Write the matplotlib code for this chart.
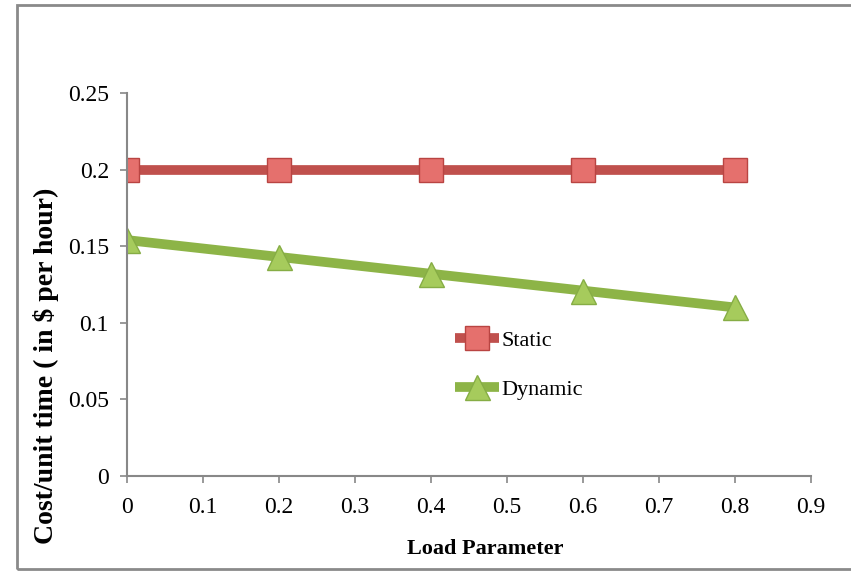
import matplotlib
matplotlib.use("Agg")
import matplotlib.pyplot as plt
from matplotlib.patches import Rectangle

load = [0, 0.2, 0.4, 0.6, 0.8]
static_cost = [0.2, 0.2, 0.2, 0.2, 0.2]
dynamic_cost = [0.154, 0.143, 0.132, 0.121, 0.110]
xticks = [0, 0.1, 0.2, 0.3, 0.4, 0.5, 0.6, 0.7, 0.8, 0.9]
yticks = [0, 0.05, 0.1, 0.15, 0.2, 0.25]

plt.rcParams['font.family'] = ['Liberation Serif', 'DejaVu Serif']

fig = plt.figure(figsize=(8.51, 5.72), dpi=100)
# outer frame of the pasted chart
fig.patches.append(Rectangle((17/851, 3/572), 1.0, 564/572, transform=fig.transFigure,
                             fill=False, edgecolor='#8a8a8a', linewidth=2))

ax = fig.add_axes([127/851, 1-476/572, (811-127)/851, (476-93)/572])

ax.plot(load, static_cost, color='#C0504D', linewidth=7, marker='s', markersize=17,
        markerfacecolor='#E5706D', markeredgecolor='#B94442', markeredgewidth=1,
        label='Static', solid_capstyle='butt')
ax.plot(load, dynamic_cost, color='#8DB447', linewidth=7, marker='^', markersize=18,
        markerfacecolor='#A6CB5C', markeredgecolor='#86AD45', markeredgewidth=1,
        label='Dynamic', solid_capstyle='butt')

ax.set_xlim(0, 0.9)
ax.set_ylim(0, 0.25)
ax.set_xticks(xticks)
ax.set_xticklabels([f"{v:g}" for v in xticks])
ax.set_yticks(yticks)
ax.set_yticklabels([f"{v:g}" for v in yticks])
ax.tick_params(axis='both', labelsize=17, color='#888888', length=5, width=1.2)
ax.tick_params(axis='x', pad=10)
ax.tick_params(axis='y', pad=8)

for s in ['top', 'right']:
    ax.spines[s].set_visible(False)
for s in ['left', 'bottom']:
    ax.spines[s].set_color('#888888')
    ax.spines[s].set_linewidth(1.5)

fig.text(485/851, 1-549/572, 'Load Parameter', ha='center', va='center',
         fontsize=16, fontweight='bold')
fig.text(46/851, 1-366/572, 'Cost/unit time ( in \\$ per hour)', ha='center', va='center',
         rotation=90, fontsize=20, fontweight='bold')

leg = ax.legend(loc='upper left', bbox_to_anchor=(435/851, 1-310/572),
                bbox_transform=fig.transFigure, frameon=False, fontsize=16,
                handlelength=2.0, handletextpad=0.1, labelspacing=1.3)

fig.savefig('out.png', dpi=100)
